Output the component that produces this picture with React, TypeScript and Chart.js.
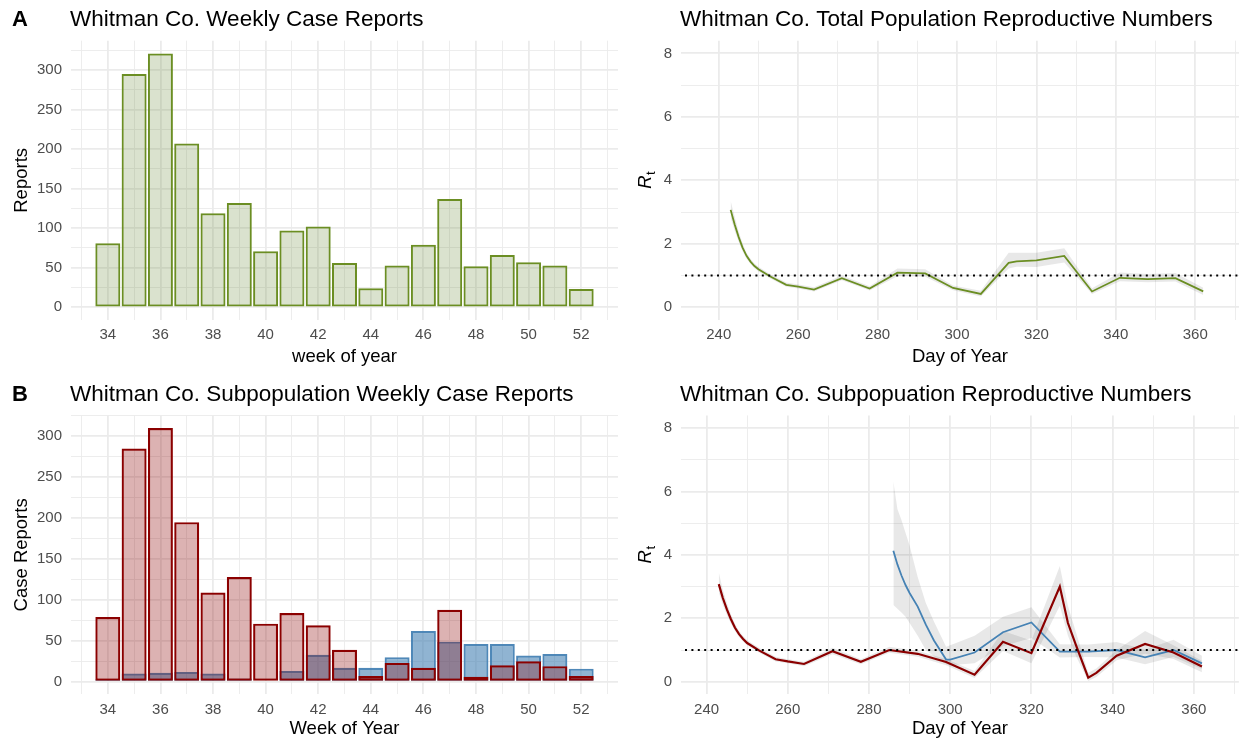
import React, { useEffect, useRef } from 'react';
import { Chart, registerables } from 'chart.js';

Chart.register(...registerables);

// ---------------- data ----------------
const WEEKS = [34, 35, 36, 37, 38, 39, 40, 41, 42, 43, 44, 45, 46, 47, 48, 49, 50, 51, 52];
const WEEKLY_REPORTS = [81, 295, 321, 207, 119, 132, 71, 97, 102, 56, 24, 53, 79, 137, 52, 66, 57, 53, 23];
const SUBPOP_RED_REPORTS = [79, 285, 310, 195, 109, 128, 71, 84, 69, 39, 7, 23, 17, 88, 6, 20, 25, 19, 7];
const SUBPOP_BLUE_REPORTS = [3, 10, 11, 12, 10, 4, 0, 13, 33, 17, 17, 30, 62, 49, 46, 46, 32, 34, 16];

const WEEK_TICKS = [34, 36, 38, 40, 42, 44, 46, 48, 50, 52];
const WEEK_MINOR = [33, 35, 37, 39, 41, 43, 45, 47, 49, 51, 53];
const REPORT_TICKS = [0, 50, 100, 150, 200, 250, 300];
const REPORT_MINOR = [25, 75, 125, 175, 225, 275, 325];
const DAY_TICKS = [240, 260, 280, 300, 320, 340, 360];
const DAY_MINOR = [230, 250, 270, 290, 310, 330, 350, 370];
const RT_TICKS = [0, 2, 4, 6, 8];
const RT_MINOR = [1, 3, 5, 7];
const RT_REFERENCE = 1;

const TOTAL_RT_DAYS = [243, 244, 245, 246, 247, 248, 249, 250, 253, 257, 260, 264, 271, 278, 285, 292, 299, 306, 313, 315, 320, 327, 334, 341, 348, 355, 362];
const TOTAL_RT_MEAN = [3.07, 2.62, 2.22, 1.88, 1.62, 1.44, 1.3, 1.2, 0.97, 0.71, 0.65, 0.56, 0.92, 0.59, 1.09, 1.07, 0.61, 0.42, 1.4, 1.45, 1.48, 1.62, 0.5, 0.93, 0.89, 0.92, 0.5];
const TOTAL_RT_LOWER = [2.82, 2.42, 2.07, 1.77, 1.53, 1.37, 1.23, 1.13, 0.91, 0.65, 0.59, 0.5, 0.85, 0.53, 0.98, 0.96, 0.54, 0.34, 1.22, 1.28, 1.27, 1.41, 0.42, 0.82, 0.79, 0.81, 0.39];
const TOTAL_RT_UPPER = [3.36, 2.86, 2.4, 2.02, 1.72, 1.53, 1.38, 1.28, 1.04, 0.78, 0.72, 0.63, 1.0, 0.66, 1.22, 1.2, 0.69, 0.52, 1.72, 1.72, 1.72, 1.86, 0.6, 1.1, 1.05, 1.08, 0.62];

const RED_RT_DAYS = [243, 244, 245, 246, 247, 248, 249, 250, 253, 257, 260, 264, 271, 278, 285, 292, 299, 306, 313, 320, 327, 329, 331, 334, 336, 341, 348, 355, 362];
const RED_RT_MEAN = [3.08, 2.64, 2.28, 1.97, 1.7, 1.5, 1.35, 1.22, 0.98, 0.71, 0.64, 0.56, 0.96, 0.63, 1.0, 0.88, 0.62, 0.22, 1.26, 0.9, 3.0, 1.85, 1.15, 0.13, 0.28, 0.82, 1.19, 0.92, 0.48];
const RED_RT_LOWER = [2.82, 2.43, 2.11, 1.84, 1.6, 1.41, 1.27, 1.15, 0.91, 0.64, 0.58, 0.49, 0.87, 0.55, 0.91, 0.79, 0.52, 0.12, 0.97, 0.58, 2.4, 1.45, 0.8, 0.02, 0.15, 0.68, 0.88, 0.72, 0.3];
const RED_RT_UPPER = [3.45, 2.9, 2.48, 2.12, 1.82, 1.6, 1.44, 1.31, 1.06, 0.79, 0.71, 0.63, 1.07, 0.71, 1.1, 0.98, 0.72, 0.34, 1.6, 1.3, 3.65, 2.4, 1.55, 0.28, 0.42, 1.0, 1.6, 1.15, 0.66];

const BLUE_RT_DAYS = [286, 287, 288, 289, 290, 292, 294, 296, 299, 300, 306, 313, 320, 327, 334, 341, 348, 355, 362];
const BLUE_RT_MEAN = [4.13, 3.7, 3.35, 3.05, 2.8, 2.37, 1.8, 1.3, 0.7, 0.7, 0.92, 1.56, 1.87, 0.95, 0.95, 1.0, 0.77, 1.0, 0.58];
const BLUE_RT_LOWER = [2.42, 2.3, 2.18, 2.05, 1.85, 1.45, 1.0, 0.8, 0.55, 0.52, 0.58, 1.12, 1.38, 0.76, 0.78, 0.76, 0.55, 0.78, 0.4];
const BLUE_RT_UPPER = [6.32, 5.45, 5.1, 4.7, 4.3, 3.3, 2.48, 1.9, 1.1, 1.15, 1.45, 2.05, 2.35, 1.18, 1.17, 1.25, 1.02, 1.32, 0.82];

// ---------------- styling ----------------
const FONT = "'Liberation Sans', Arial, Helvetica, sans-serif";
const GRID = '#EBEBEB';
const BAND = 'rgba(0,0,0,0.09)';
const GREEN = '#6B8E23';
const RED = '#8B0000';
const BLUE = '#4682B4';

type AxisOpts = {
  min: number; max: number; major: number[]; minor: number[];
  fit: number; horizontal: boolean; tickPad: number;
  title?: string; titlePad?: any;
};

function makeAxis(o: AxisOpts): any {
  const all = [...o.major, ...o.minor].filter((v) => v >= o.min && v <= o.max).sort((a, b) => a - b);
  return {
    type: 'linear',
    min: o.min,
    max: o.max,
    offset: false,
    afterBuildTicks: (s: any) => { s.ticks = all.map((v) => ({ value: v })); },
    afterFit: (s: any) => { if (o.horizontal) s.height = o.fit; else s.width = o.fit; },
    ticks: {
      autoSkip: false, maxRotation: 0, minRotation: 0, padding: o.tickPad,
      color: '#4D4D4D', font: { family: FONT, size: 15 },
      callback: (v: number) => (o.major.includes(v) ? String(v) : ''),
    },
    grid: {
      color: GRID, offset: false, drawTicks: false,
      lineWidth: (c: any) => (c.tick && o.major.includes(c.tick.value) ? 1.8 : 0.9),
    },
    border: { display: false },
    title: o.title
      ? { display: true, text: o.title, color: '#000', font: { family: FONT, size: 18.5 }, padding: o.titlePad }
      : { display: false },
  };
}

const panelText = (title: string, letter: string | null) => ({
  id: 'panelText',
  afterDraw(chart: any) {
    const ctx = chart.ctx; const a = chart.chartArea;
    ctx.save();
    ctx.fillStyle = '#000'; ctx.textAlign = 'left'; ctx.textBaseline = 'alphabetic';
    ctx.font = `22.5px ${FONT}`;
    ctx.fillText(title, a.left - 1, a.top - 14.5);
    if (letter) { ctx.font = `bold 22px ${FONT}`; ctx.fillText(letter, 12, a.top - 14.5); }
    ctx.restore();
  },
});

const rtTitle = {
  id: 'rtTitle',
  afterDraw(chart: any) {
    const ctx = chart.ctx; const a = chart.chartArea;
    const cy = (a.top + a.bottom) / 2;
    ctx.save();
    ctx.translate(30.5, cy); ctx.rotate(-Math.PI / 2);
    ctx.fillStyle = '#000'; ctx.textBaseline = 'alphabetic'; ctx.textAlign = 'left';
    ctx.font = `italic 18.5px ${FONT}`; const wR = ctx.measureText('R').width;
    ctx.font = `13px ${FONT}`; const wt = ctx.measureText('t').width;
    const x0 = -(wR + wt) / 2;
    ctx.font = `italic 18.5px ${FONT}`; ctx.fillText('R', x0, 0);
    ctx.font = `13px ${FONT}`; ctx.fillText('t', x0 + wR + 0.5, 4);
    ctx.restore();
  },
};

const refLine = {
  id: 'refLine',
  afterDatasetsDraw(chart: any) {
    const ctx = chart.ctx; const a = chart.chartArea;
    const y = chart.scales.y.getPixelForValue(RT_REFERENCE);
    ctx.save();
    ctx.beginPath(); ctx.setLineDash([2, 4.4]); ctx.lineWidth = 2; ctx.strokeStyle = '#000';
    ctx.moveTo(a.left + 4, y); ctx.lineTo(a.right, y); ctx.stroke();
    ctx.restore();
  },
};

const pts = (xs: number[], ys: number[]) => xs.map((x, i) => ({ x, y: ys[i] }));

const barBase = {
  borderSkipped: false as const,
  barPercentage: 0.95,
  categoryPercentage: 1,
  grouped: false,
};

const commonOpts = (padTop: number, padRight: number) => ({
  animation: false as const,
  responsive: false,
  events: [] as any[],
  layout: { padding: { top: padTop, left: 0, right: padRight, bottom: 0 } },
  plugins: { legend: { display: false }, tooltip: { enabled: false }, title: { display: false } },
});

function configA(): any {
  return {
    type: 'bar',
    data: {
      datasets: [{
        ...barBase,
        data: pts(WEEKS, WEEKLY_REPORTS),
        backgroundColor: 'rgba(100,135,50,0.24)',
        borderColor: GREEN,
        borderWidth: 2,
      }],
    },
    options: {
      ...commonOpts(40.7, 2),
      scales: {
        x: makeAxis({ min: 32.6, max: 53.4, major: WEEK_TICKS, minor: WEEK_MINOR, fit: 51, horizontal: true, tickPad: 6, title: 'week of year', titlePad: { top: 0, bottom: 3.2 } }),
        y: makeAxis({ min: -16.05, max: 337.05, major: REPORT_TICKS, minor: REPORT_MINOR, fit: 71, horizontal: false, tickPad: 9, title: 'Reports', titlePad: { top: 10.9, bottom: 0 } }),
      },
    },
    plugins: [panelText('Whitman Co. Weekly Case Reports', 'A')],
  };
}

function configB(): any {
  return {
    type: 'bar',
    data: {
      datasets: [
        {
          ...barBase,
          data: pts(WEEKS, SUBPOP_RED_REPORTS),
          backgroundColor: 'rgba(139,0,0,0.3)',
          borderColor: RED,
          borderWidth: 2.2,
        },
        {
          ...barBase,
          data: pts(WEEKS, SUBPOP_BLUE_REPORTS),
          backgroundColor: 'rgba(70,130,180,0.6)',
          borderColor: 'rgba(70,130,180,0.95)',
          borderWidth: 2.2,
        },
      ],
    },
    options: {
      ...commonOpts(44.4, 2),
      scales: {
        x: makeAxis({ min: 32.6, max: 53.4, major: WEEK_TICKS, minor: WEEK_MINOR, fit: 47.6, horizontal: true, tickPad: 6.6, title: 'Week of Year', titlePad: { top: 0, bottom: 1.6 } }),
        y: makeAxis({ min: -15.5, max: 325.5, major: REPORT_TICKS, minor: REPORT_MINOR, fit: 71, horizontal: false, tickPad: 9, title: 'Case Reports', titlePad: { top: 10.9, bottom: 0 } }),
      },
    },
    plugins: [panelText('Whitman Co. Subpopulation Weekly Case Reports', 'B')],
  };
}

const lineDs = (xs: number[], ys: number[], color: string, width: number) => ({
  data: pts(xs, ys), borderColor: color, borderWidth: width, pointRadius: 0, tension: 0, fill: false,
});
const bandDs = (xs: number[], lo: number[], hi: number[]) => [
  { data: pts(xs, lo), borderColor: 'rgba(0,0,0,0)', borderWidth: 0, pointRadius: 0, tension: 0, fill: false },
  { data: pts(xs, hi), borderColor: 'rgba(0,0,0,0)', borderWidth: 0, pointRadius: 0, tension: 0, fill: '-1', backgroundColor: BAND },
];

function configC(): any {
  return {
    type: 'line',
    data: {
      datasets: [
        lineDs(TOTAL_RT_DAYS, TOTAL_RT_MEAN, GREEN, 1.8),
        ...bandDs(TOTAL_RT_DAYS, TOTAL_RT_LOWER, TOTAL_RT_UPPER),
      ],
    },
    options: {
      ...commonOpts(40.7, 0),
      scales: {
        x: makeAxis({ min: 230.5, max: 371.0, major: DAY_TICKS, minor: DAY_MINOR, fit: 51, horizontal: true, tickPad: 6, title: 'Day of Year', titlePad: { top: 0, bottom: 3.2 } }),
        y: makeAxis({ min: -0.4, max: 8.4, major: RT_TICKS, minor: RT_MINOR, fit: 61, horizontal: false, tickPad: 9 }),
      },
    },
    plugins: [panelText('Whitman Co. Total Population Reproductive Numbers', null), rtTitle, refLine],
  };
}

function configD(): any {
  return {
    type: 'line',
    data: {
      datasets: [
        lineDs(RED_RT_DAYS, RED_RT_MEAN, RED, 2.2),
        lineDs(BLUE_RT_DAYS, BLUE_RT_MEAN, BLUE, 1.8),
        ...bandDs(RED_RT_DAYS, RED_RT_LOWER, RED_RT_UPPER),
        ...bandDs(BLUE_RT_DAYS, BLUE_RT_LOWER, BLUE_RT_UPPER),
      ],
    },
    options: {
      ...commonOpts(44.4, 0),
      scales: {
        x: makeAxis({ min: 233.7, max: 371.1, major: DAY_TICKS, minor: DAY_MINOR, fit: 47.6, horizontal: true, tickPad: 6.6, title: 'Day of Year', titlePad: { top: 0, bottom: 1.6 } }),
        y: makeAxis({ min: -0.4, max: 8.4, major: RT_TICKS, minor: RT_MINOR, fit: 61, horizontal: false, tickPad: 9 }),
      },
    },
    plugins: [panelText('Whitman Co. Subpopuation Reproductive Numbers', null), rtTitle, refLine],
  };
}

function Panel(props: { left: number; top: number; width: number; height: number; build: () => any }) {
  const ref = useRef<HTMLCanvasElement>(null);
  useEffect(() => {
    const chart = new Chart(ref.current as HTMLCanvasElement, props.build());
    return () => chart.destroy();
  }, []);
  return (
    <canvas
      ref={ref}
      width={props.width}
      height={props.height}
      style={{ position: 'absolute', left: props.left, top: props.top, width: props.width, height: props.height }}
    />
  );
}

export default function App() {
  return (
    <div style={{ position: 'absolute', left: 0, top: 0, width: 1241, height: 742, background: '#fff', overflow: 'hidden' }}>
      <Panel left={0} top={0} width={620} height={371} build={configA} />
      <Panel left={620} top={0} width={621} height={371} build={configC} />
      <Panel left={0} top={371} width={620} height={371} build={configB} />
      <Panel left={620} top={371} width={621} height={371} build={configD} />
    </div>
  );
}
